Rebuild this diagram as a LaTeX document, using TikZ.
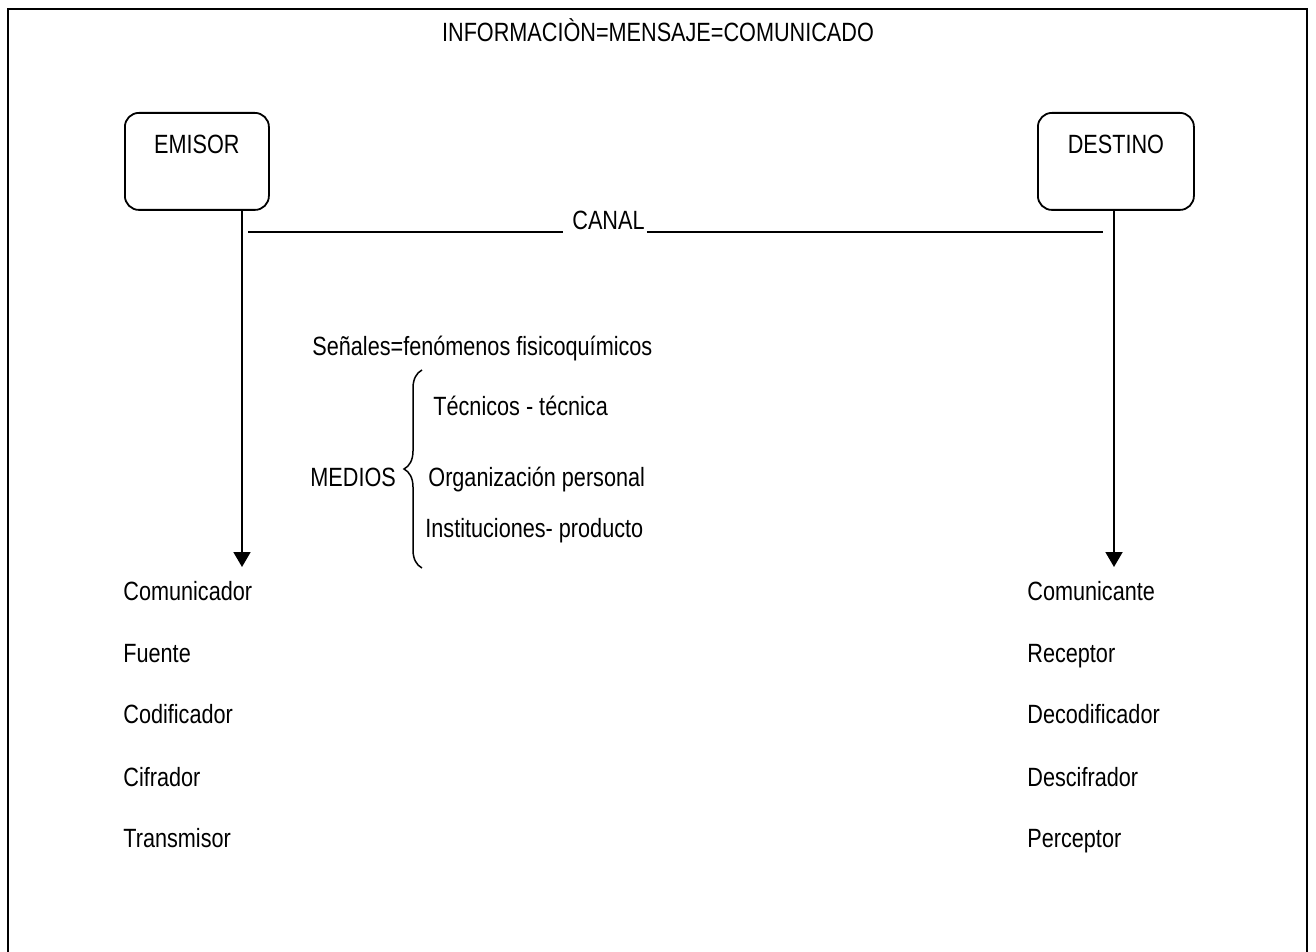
\documentclass[tikz,border=0pt]{standalone}
\usepackage{fontspec}
\setmainfont{Liberation Sans}[FakeStretch=0.82]
\usetikzlibrary{arrows.meta,decorations.pathreplacing}

\begin{document}
\begin{tikzpicture}[
    x=0.5pt, y=-0.5pt,
    font=\fontsize{13.2pt}{16pt}\selectfont,
    actor/.style={rectangle, draw, line width=0.9pt, rounded corners=7pt, text height=9.5pt, text depth=17pt, inner ysep=11pt, inner xsep=0pt, minimum height=48.5pt, anchor=north west},
    txt/.style={anchor=base west, inner sep=0pt},
    flow/.style={-{Triangle[width=8.5pt,length=7.5pt]}, line width=0.9pt}
]
    \useasboundingbox (0,0) rectangle (1316,952);

    % Marco
    \draw[line width=1.3pt] (8,952) |- (1307,9) -- (1307,952);

    \node[anchor=base] (info) at (658,42) {INFORMACIÒN=MENSAJE=COMUNICADO};

    % Emisor y destino
    \node[actor, minimum width=72pt] (emisor) at (124,112) {EMISOR};
    \node[actor, minimum width=78pt] (destino) at (1037,112) {DESTINO};

    % Canal
    \node[txt] (canal) at (572,230) {CANAL};
    \coordinate (canalL) at (248,232);
    \coordinate (canalR) at (1103,232);
    \draw[line width=0.7pt] (canalL) -- ([xshift=-4.5pt]canalL -| canal.west);
    \draw[line width=0.7pt] ([xshift=1pt]canal.east |- canalR) -- (canalR);

    % Flechas
    \coordinate (emisorTip) at (242,567);
    \coordinate (destinoTip) at (1114,567);
    \draw[flow] (emisor.south -| emisorTip) -- (emisorTip);
    \draw[flow] (destino.south -| destinoTip) -- (destinoTip);

    % Medios
    \node[txt] (senales) at (312,355) {Señales=fenómenos fisicoquímicos};
    \node[txt] (medios) at (310,486) {MEDIOS};
    \node[txt] (tecnicos) at (433,415) {Técnicos - técnica};
    \node[txt] (organizacion) at (428,486) {Organización personal};
    \node[txt] (instituciones) at (425,537) {Instituciones- producto};
    \coordinate (braceBot) at (422,568);
    \coordinate (braceTop) at (422,370);
    \draw[decorate, decoration={brace, amplitude=9pt}, line width=0.75pt] (braceBot) -- (braceTop);

    % Emisor
    \node[txt] (comunicador) at (123,600) {Comunicador};
    \node[txt] (fuente) at (123,662) {Fuente};
    \node[txt] (codificador) at (123,723) {Codificador};
    \node[txt] (cifrador) at (123,786) {Cifrador};
    \node[txt] (transmisor) at (123,847) {Transmisor};

    % Destino
    \node[txt] (comunicante) at (1027,600) {Comunicante};
    \node[txt] (receptor) at (1027,662) {Receptor};
    \node[txt] (decodificador) at (1027,723) {Decodificador};
    \node[txt] (descifrador) at (1027,786) {Descifrador};
    \node[txt] (perceptor) at (1027,847) {Perceptor};

\end{tikzpicture}
\end{document}
